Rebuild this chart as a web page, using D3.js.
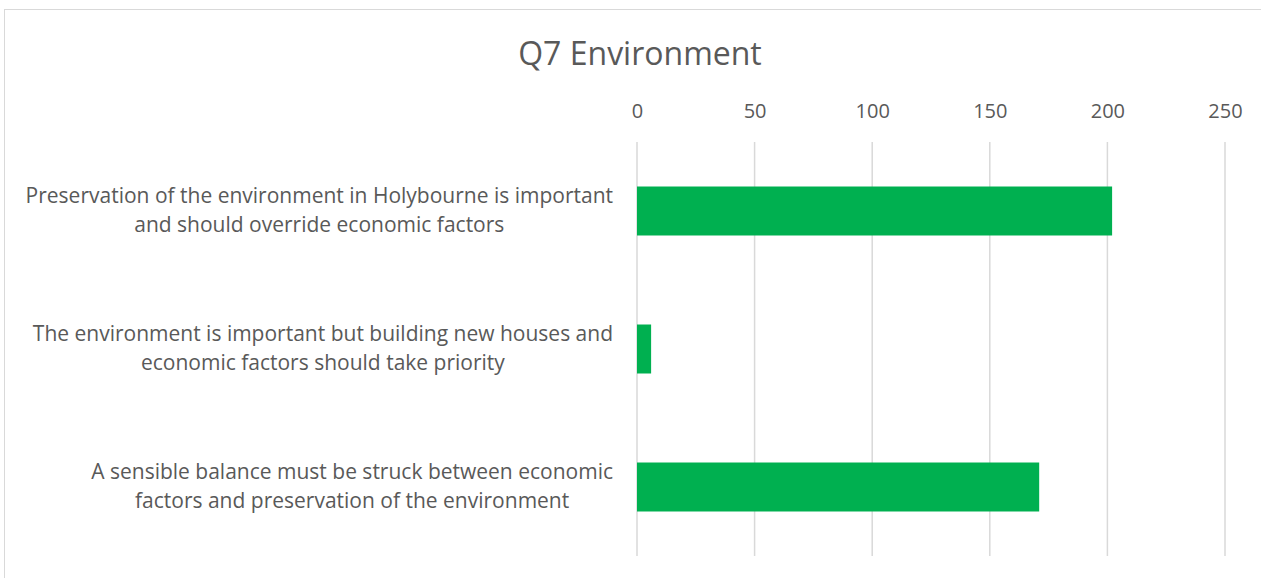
<!DOCTYPE html>
<html>
<head>
<meta charset="utf-8">
<script src="https://cdn.jsdelivr.net/npm/d3@7/dist/d3.min.js"></script>
<style>
  body { margin: 0; background: #fff; }
  svg { display: block; font-family: "Open Sans", Lato, sans-serif; }
</style>
</head>
<body>
<svg width="1261" height="578"></svg>
<script>
const chartTitle = "Q7 Environment";
const categories = [
  ["Preservation of the environment in Holybourne is important", "and should override economic factors"],
  ["The environment is important but building new houses and", "economic factors should take priority"],
  ["A sensible balance must be struck between economic", "factors and preservation of the environment"]
];
const values = [202, 6, 171];
const tickValues = [0, 50, 100, 150, 200, 250];

const svg = d3.select("svg");
const margin = {top: 142, left: 637, right: 36, bottom: 22};
const W = 1261, H = 578;

// chart frame
svg.append("rect")
  .attr("x", 4.5).attr("y", 9.5)
  .attr("width", W + 20).attr("height", H + 20)
  .attr("fill", "none").attr("stroke", "#d9d9d9");

const x = d3.scaleLinear().domain([0, 250]).range([margin.left, W - margin.right]);
const y = d3.scaleBand().domain(d3.range(categories.length))
  .range([margin.top, H - margin.bottom]).paddingInner(0.645).paddingOuter(0.3225);

svg.append("text")
  .attr("x", 640).attr("y", 65)
  .attr("text-anchor", "middle")
  .attr("fill", "#595959")
  .style("font-size", "32px")
  .text(chartTitle);

// gridlines
svg.append("g")
  .selectAll("line")
  .data(tickValues)
  .join("line")
    .attr("x1", d => x(d)).attr("x2", d => x(d))
    .attr("y1", margin.top).attr("y2", H - margin.bottom)
    .attr("stroke", "#d9d9d9").attr("stroke-width", 1.5);

// top axis labels
const axis = svg.append("g")
  .attr("transform", `translate(0,${margin.top - 24})`)
  .call(d3.axisTop(x).tickValues(tickValues).tickSize(0).tickPadding(0));
axis.select(".domain").remove();
axis.selectAll("text").attr("fill", "#595959")
  .style("font-family", "'Open Sans', sans-serif").style("font-size", "20px");

// bars
svg.append("g")
  .selectAll("rect")
  .data(values)
  .join("rect")
    .attr("x", x(0))
    .attr("y", (d, i) => y(i))
    .attr("width", d => x(d) - x(0))
    .attr("height", y.bandwidth())
    .attr("fill", "#00b050");

// category labels
const lab = svg.append("g")
  .selectAll("text")
  .data(categories)
  .join("text")
    .attr("x", x(0) - 24)
    .attr("y", (d, i) => y(i) + y.bandwidth() / 2)
    .attr("text-anchor", "end")
    .attr("fill", "#595959")
    .style("font-size", "21px");
lab.selectAll("tspan")
  .data(d => d)
  .join("tspan")
    .attr("x", x(0) - 24)
    .attr("dy", (d, i) => i === 0 ? "-0.38em" : "1.38em")
    .attr("text-anchor", (d, i) => i === 0 ? "end" : "middle")
    .text(d => d);

// center the second line under the first
lab.each(function() {
  const t = d3.select(this).selectAll("tspan").nodes();
  const w0 = t[0].getComputedTextLength();
  d3.select(t[1]).attr("x", x(0) - 24 - w0 / 2);
});
</script>
</body>
</html>
